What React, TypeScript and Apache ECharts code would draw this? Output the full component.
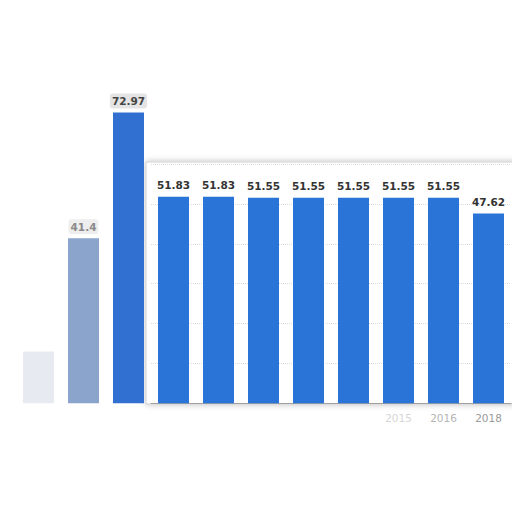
import { useEffect, useRef } from "react";
import * as echarts from "echarts";

const years = ["2007", "2008", "2009", "2010", "2011", "2012", "2013", "2014", "2015", "2016", "2018"];
const values = [13, 41.4, 72.97, 51.83, 51.83, 51.55, 51.55, 51.55, 51.55, 51.55, 47.62];
const shownYears = ["2015", "2016", "2018"];
const labelled = [false, true, true, true, true, true, true, true, true, true, true];

// the first three bars sit outside the white panel, the rest inside
const SPLIT = 3;

const BLUE = "#2a73d7";
const leftColors = ["rgba(185,196,214,0.35)", "#8ba4cc", "#3170d0"];
const yearColors: Record<string, string> = { "2015": "#d6d6d6", "2016": "#b4b4b4", "2018": "#9a9a9a" };

const labelFont = { fontFamily: "DejaVu Sans", fontSize: 10.5, fontWeight: "bold" as const };

export default function App(): JSX.Element {
  const ref = useRef<HTMLDivElement | null>(null);

  useEffect(() => {
    const el = ref.current;
    if (!el) return;
    const chart = echarts.init(el, null, { renderer: "svg" });

    const xData = (list: string[]) =>
      list.map((y) => ({
        value: y,
        textStyle: { color: shownYears.includes(y) ? yearColors[y] : "transparent" },
      }));

    const leftData = values.slice(0, SPLIT).map((v, i) => ({
      value: v,
      itemStyle: { color: leftColors[i] },
      label:
        i === 2
          ? { show: true, color: "#444", backgroundColor: "#e4e4e4", borderRadius: 3, padding: [2, 2] }
          : i === 1
            ? { show: labelled[i], color: "#8a8a8a", backgroundColor: "#eeeeee", borderRadius: 3, padding: [2, 2] }
            : { show: false },
    }));

    chart.setOption({
      animation: false,
      graphic: [
        {
          type: "rect",
          z: -1,
          shape: { x: 146, y: 162, width: 372, height: 242 },
          style: {
            fill: "#ffffff",
            stroke: "#cfcfcf",
            lineWidth: 1,
            shadowBlur: 6,
            shadowColor: "rgba(0,0,0,0.25)",
          },
        },
      ],
      grid: [
        { left: 16, right: 361, top: 84.4, bottom: 108.7 },
        { left: 151, right: 1, top: 164.1, bottom: 108.7 },
      ],
      xAxis: [
        {
          type: "category",
          gridIndex: 0,
          data: xData(years.slice(0, SPLIT)),
          axisLine: { show: false },
          axisTick: { show: false },
          axisLabel: { show: false },
        },
        {
          type: "category",
          gridIndex: 1,
          data: xData(years.slice(SPLIT)),
          axisLine: { show: true, lineStyle: { color: "#a0a0a0", width: 1 } },
          axisTick: { show: false },
          axisLabel: { fontFamily: "DejaVu Sans", fontSize: 10.5, margin: 9 },
        },
      ],
      yAxis: [
        {
          type: "value",
          gridIndex: 0,
          min: 0,
          max: 80,
          interval: 10,
          axisLabel: { show: false },
          axisLine: { show: false },
          axisTick: { show: false },
          splitLine: { show: false },
        },
        {
          type: "value",
          gridIndex: 1,
          min: 0,
          max: 60,
          interval: 10,
          axisLabel: { show: false },
          axisLine: { show: false },
          axisTick: { show: false },
          splitLine: { show: true, lineStyle: { color: "#dcdcdc", type: "dotted", width: 1 } },
        },
      ],
      series: [
        {
          type: "bar",
          xAxisIndex: 0,
          yAxisIndex: 0,
          barWidth: 31,
          data: leftData,
          label: { show: true, position: "top", distance: 4, ...labelFont },
        },
        {
          type: "bar",
          xAxisIndex: 1,
          yAxisIndex: 1,
          barWidth: 31,
          itemStyle: { color: BLUE },
          data: values.slice(SPLIT),
          label: { show: true, position: "top", distance: 6, color: "#333", ...labelFont },
        },
      ],
    });

    return () => chart.dispose();
  }, []);

  return (
    <div
      ref={ref}
      style={{ position: "absolute", left: 0, top: 0, width: 512, height: 512, background: "#fff" }}
    />
  );
}
